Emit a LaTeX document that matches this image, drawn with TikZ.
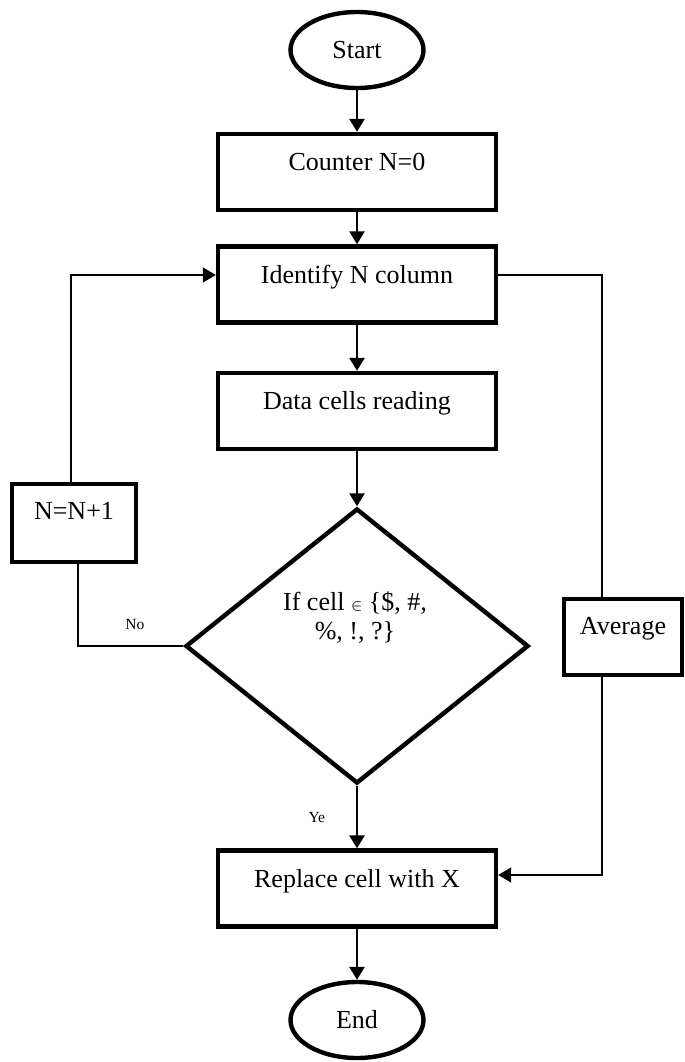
\documentclass[tikz,border=0pt]{standalone}
\usepackage{fontspec}
\setmainfont{Liberation Serif}
\usetikzlibrary{shapes.geometric,arrows.meta,positioning}

\begin{document}
\begin{tikzpicture}[x=0.5pt, y=-0.5pt, % Unidades en pixeles
    font=\fontsize{13}{14.5}\selectfont,
    >={Triangle[length=6.5pt, width=7.5pt]},
    caja/.style={draw, line width=2.2pt, minimum width=139pt, minimum height=38pt,
        text height=9pt, text depth=10.4pt, inner sep=0pt},
    terminal/.style={draw, ellipse, line width=2.2pt, minimum width=66.5pt,
        minimum height=38pt, inner sep=0pt},
    decision/.style={draw, diamond, line width=2.2pt, minimum width=171.5pt,
        minimum height=137.5pt, inner sep=0pt},
    flecha/.style={line width=1.3pt, ->},
    linea/.style={line width=0.7pt},
    etiqueta/.style={font=\fontsize{7.75}{9}\selectfont}]
    \useasboundingbox (0,0) rectangle (685,1062); % Margenes
    % Nodos
    \node[terminal] (inicio) at (357,50) {Start};
    \node[caja] (contador) at (357,172) {Counter N=0};
    \node[caja] (identificar) at (357,284.5) {Identify N column};
    \node[caja] (lectura) at (357,411) {Data cells reading};
    \node[decision] (condicion) at (357,646) {};
    \node[align=center] (condtxt) at (355,617.5) {If cell {\footnotesize$\in$} \{\$, \#,\\ \%, !, ?\}};
    \node[caja] (reemplazo) at (357,888.5) {Replace cell with X};
    \node[terminal] (fin) at (357,1020) {End};
    \node[caja, minimum width=62pt, minimum height=39pt, text depth=12.9pt] (incremento) at (74,523) {N=N+1};
    \node[caja, minimum width=59pt, text depth=11.9pt] (promedio) at (623,637) {Average};
    % Flechas principales
    \draw[flecha] (inicio.south) -- (contador.north);
    \draw[flecha] (contador.south) -- (identificar.north);
    \draw[flecha] (identificar.south) -- (lectura.north);
    \draw[flecha] (lectura.south) -- (condicion.north);
    \draw[flecha] (condicion.south) -- node[etiqueta, left=12pt] (si) {Ye} (reemplazo.north);
    \draw[flecha] (reemplazo.south) -- (fin.north);
    % Lazo izquierdo: N=N+1
    \draw[linea] (condicion.west) -| node[etiqueta, pos=0.23, above=4.5pt] (no) {No} ([xshift=2pt]incremento.south);
    \draw[linea, ->] ([xshift=-1.5pt]incremento.north) |- ([yshift=4.75pt]identificar.west);
    % Lazo derecho: promedio
    \draw[linea] ([yshift=4.75pt]identificar.east) -| ([xshift=-10.5pt]promedio.north);
    \draw[linea, ->] ([xshift=-10.5pt]promedio.south) |- ([yshift=6.75pt]reemplazo.east);
\end{tikzpicture}
\end{document}
